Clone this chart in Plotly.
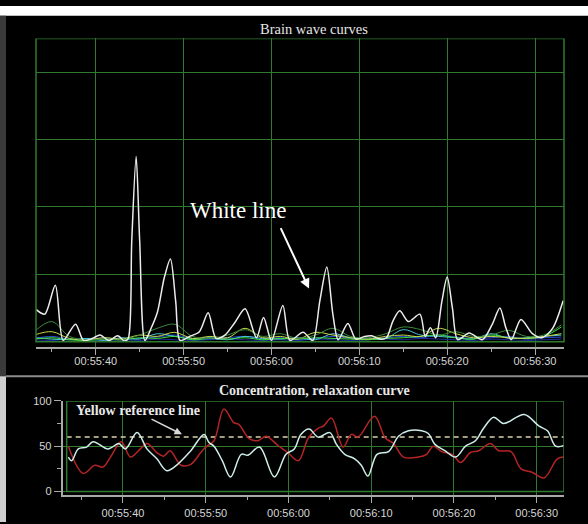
import plotly.graph_objects as go

W, H = 588, 524

# ---- data: seconds past 00:55:00 and amplitudes ----
# white brain-wave curve
white_t = [33.2, 34.2, 35.4, 36.3, 37.7, 38.6, 39.6, 40.5, 41.5, 42.5,
           43.3, 43.7, 44.1, 44.6, 45.0, 45.6, 46.3, 47.0, 47.8, 48.5,
           49.1, 49.6, 50.7, 51.8, 52.8, 53.7, 54.7, 55.8, 57.0, 58.3,
           59.1, 60.0, 61.3, 62.1, 63.6, 64.7, 65.5, 66.3, 67.0, 67.6,
           68.7, 69.6, 70.6, 71.4, 72.3, 73.1, 73.8, 74.6, 75.6, 76.9,
           77.5, 78.1, 78.7, 79.4, 80.0, 80.6, 81.2, 82.5, 84.0, 85.1,
           86.0, 86.7, 87.3, 88.4, 89.7, 90.8, 92.0, 93.2]
white_v = [48, 41, 84, 2, 26, 2, 5, 10, 2, 9,
           1, 5, 150, 275, 150, 2, 20, 43, 95, 123,
           60, 2, 8, 15, 43, 5, 10, 28, 49, 6,
           36, 2, 54, 2, 14, 2, 60, 111, 40, 3,
           27, 4, 8, 9, 4, 6, 30, 46, 30, 41,
           8, 21, 6, 60, 96, 50, 3, 13, 3, 25,
           50, 20, 3, 33, 12, 6, 20, 61]

# low-amplitude band curves, sampled every 2 s
band_t = [33, 35, 37, 39, 41, 43, 45, 47, 49, 51, 53, 55, 57, 59, 61, 63,
          65, 67, 69, 71, 73, 75, 77, 79, 81, 83, 85, 87, 89, 91, 93]
navy_v = [3, 2, 4, 3, 2, 3, 2, 4, 3, 2, 3, 4, 3, 2, 3, 2,
          4, 3, 2, 3, 4, 3, 5, 4, 3, 2, 4, 3, 2, 3, 4]
blue_v = [5, 8, 4, 3, 6, 3, 5, 7, 10, 5, 4, 6, 8, 4, 6, 3,
          5, 8, 5, 4, 6, 8, 6, 10, 7, 5, 6, 8, 4, 6, 7]
cyan_band_v = [6, 4, 3, 5, 2, 6, 4, 12, 8, 4, 6, 3, 8, 5, 4, 6,
               3, 12, 6, 4, 5, 18, 10, 8, 6, 4, 12, 5, 6, 8, 10]
lime_v = [4, 6, 3, 2, 4, 3, 6, 5, 8, 3, 5, 4, 6, 3, 5, 4,
          6, 5, 4, 3, 5, 6, 8, 10, 6, 4, 10, 6, 5, 8, 22]
yellowgreen_v = [10, 15, 5, 3, 6, 4, 10, 8, 14, 5, 8, 6, 20, 6, 8, 4,
                 14, 10, 6, 4, 8, 10, 8, 20, 12, 6, 8, 6, 5, 8, 12]
darkgreen_v = [15, 30, 8, 3, 4, 3, 10, 20, 26, 8, 5, 10, 18, 8, 12, 5,
               10, 20, 8, 6, 12, 22, 18, 10, 15, 8, 10, 17, 8, 10, 25]

# concentration (red) and relaxation (cyan) curves
red_t = [33.4, 35.2, 36.6, 37.6, 38.5, 39.8, 40.9, 42.1, 42.9, 44.1,
         44.9, 45.7, 47.0, 48.2, 49.4, 50.0, 51.0, 52.2, 53.4, 54.0,
         55.3, 56.3, 57.3, 58.7, 59.9, 61.2, 62.4, 63.6, 64.2, 65.2,
         66.6, 67.6, 68.4, 70.4, 71.7, 72.7, 73.9, 75.7, 76.7, 77.5,
         78.5, 79.8, 80.8, 82.0, 83.0, 84.4, 85.4, 86.9, 88.1, 89.5,
         90.9, 92.5, 93.4]
red_v = [50, 20, 29, 27, 38, 55, 38, 47, 53, 43,
         39, 45, 29, 30, 43, 49, 56, 91, 76, 74,
         58, 56, 61, 51, 43, 34, 59, 70, 72, 81,
         49, 63, 60, 83, 59, 53, 38, 38, 41, 50,
         44, 41, 32, 43, 45, 53, 45, 44, 25, 21,
         15, 36, 38]
cyan_t = [33.4, 33.8, 34.6, 35.6, 36.4, 38.1, 38.7, 39.5, 40.3, 41.7,
          42.9, 44.1, 45.3, 46.6, 48.2, 49.8, 50.4, 51.0, 52.0, 53.0,
          54.3, 55.1, 56.5, 58.3, 59.7, 60.7, 61.5, 62.5, 63.6, 65.0,
          65.8, 66.8, 68.0, 68.8, 69.6, 70.7, 72.1, 73.3, 74.5, 76.1,
          76.9, 77.7, 78.9, 80.2, 81.4, 82.6, 83.6, 84.8, 86.0, 88.5,
          90.3, 91.3, 92.3, 93.4]
cyan_v = [38, 34, 47, 49, 55, 47, 49, 53, 47, 65,
          47, 36, 23, 30, 45, 63, 54, 50, 34, 16,
          41, 40, 49, 16, 41, 47, 63, 69, 60, 65,
          52, 41, 36, 29, 17, 41, 44, 61, 67, 67,
          64, 52, 45, 38, 50, 56, 70, 82, 75, 85,
          72, 67, 50, 51]

REFERENCE_LEVEL = 60
TIME_RANGE = [33.2, 93.3]
WAVE_MAX = 450
LEVEL_MAX = 100


def stamp(secs):
    """Seconds past 00:55:00 -> datetime string."""
    out = []
    for s in secs:
        m = 55 + int(s // 60)
        out.append(f"2024-01-01 00:{m:02d}:{s - 60 * int(s // 60):06.3f}")
    return out


def px_x(px):
    return px / W


def px_y(py):
    return 1 - py / H


GRID = "#2f7a2f"
AXIS = "#a9a9a9"
TICKFONT = dict(family="Liberation Sans, Arial, sans-serif", size=11, color="#d6d6d6")
SERIF = "Liberation Serif, Times New Roman, serif"

# the axis lines sit a few pixels outside the green plot frame
TOP_GAP_PX, BOT_GAP_PX, LEFT_GAP_PX = 5, 4, 4
top_span_px = 346 - 33 - TOP_GAP_PX
bot_span_px = 497 - 401 - BOT_GAP_PX
bot_w_px = 564 - 62.7 - LEFT_GAP_PX
span_s = TIME_RANGE[1] - TIME_RANGE[0]

fig = go.Figure()

# brain-wave bands (drawn under the white curve)
bands = [
    (navy_v, "#1c2c96"),
    (blue_v, "#2a4ad6"),
    (cyan_band_v, "#48c4dc"),
    (lime_v, "#3ee03e"),
    (yellowgreen_v, "#c6d84a"),
    (darkgreen_v, "#3c8a3c"),
]
for vals, col in bands:
    fig.add_trace(go.Scatter(x=stamp(band_t), y=vals, mode="lines",
                             line=dict(color=col, width=1, shape="spline"),
                             xaxis="x", yaxis="y", hoverinfo="skip"))

fig.add_trace(go.Scatter(x=stamp(white_t), y=white_v, mode="lines",
                         line=dict(color="#ececec", width=1.5, shape="spline", smoothing=0.8),
                         xaxis="x", yaxis="y", hoverinfo="skip"))

# concentration / relaxation panel
fig.add_trace(go.Scatter(x=stamp(TIME_RANGE), y=[REFERENCE_LEVEL, REFERENCE_LEVEL],
                         mode="lines", line=dict(color="#d9d2aa", width=1.5, dash="5px,4px"),
                         xaxis="x2", yaxis="y2", hoverinfo="skip"))
fig.add_trace(go.Scatter(x=stamp(red_t), y=red_v, mode="lines",
                         line=dict(color="#b42424", width=1.5, shape="spline"),
                         xaxis="x2", yaxis="y2", hoverinfo="skip"))
fig.add_trace(go.Scatter(x=stamp(cyan_t), y=cyan_v, mode="lines",
                         line=dict(color="#cdeeea", width=1.5, shape="spline"),
                         xaxis="x2", yaxis="y2", hoverinfo="skip"))

time_axis = dict(
    type="date", tick0="2024-01-01 00:55:00", dtick=10000,
    tickformat="%H:%M:%S", ticks="outside", ticklen=6, tickwidth=1, tickcolor=AXIS,
    minor=dict(dtick=5000, ticks="outside", ticklen=3, tickcolor=AXIS, showgrid=False),
    showline=True, linecolor=AXIS, linewidth=2, showgrid=True, gridcolor=GRID,
    gridwidth=1, zeroline=False, tickfont=TICKFONT, fixedrange=True,
)

fig.update_layout(
    width=W, height=H, margin=dict(l=0, r=0, t=0, b=0),
    paper_bgcolor="#000000", plot_bgcolor="#000000", showlegend=False,
    xaxis=dict(time_axis, domain=[px_x(36), px_x(564)], anchor="y",
               range=stamp(TIME_RANGE), ticklabelstandoff=-3),
    yaxis=dict(domain=[px_y(346), px_y(33)],
               range=[-WAVE_MAX * TOP_GAP_PX / top_span_px, WAVE_MAX], tick0=0, dtick=100,
               showticklabels=False, ticks="", showline=False, zeroline=False,
               showgrid=True, gridcolor=GRID, anchor="x", fixedrange=True),
    xaxis2=dict(time_axis, domain=[px_x(62.7), px_x(564)], anchor="y2",
                range=stamp([TIME_RANGE[0] - span_s * LEFT_GAP_PX / bot_w_px, TIME_RANGE[1]]),
                ticklabelstandoff=0),
    yaxis2=dict(domain=[px_y(497), px_y(401)],
                range=[-LEVEL_MAX * BOT_GAP_PX / bot_span_px, LEVEL_MAX],
                tickvals=[0, 50, 100], ticks="outside", ticklen=7, tickcolor=AXIS,
                minor=dict(tickvals=[25, 75], ticks="outside", ticklen=4, tickcolor=AXIS,
                           showgrid=False),
                showline=True, linecolor=AXIS, linewidth=2, zeroline=False,
                showgrid=True, gridcolor=GRID, tickfont=TICKFONT,
                anchor="x2", fixedrange=True),
)

shapes = [
    # frame strips
    dict(type="rect", xref="paper", yref="paper", x0=0, x1=1, y0=px_y(10), y1=1,
         fillcolor="#ffffff", line=dict(width=0), layer="below"),
    dict(type="rect", xref="paper", yref="paper", x0=0, x1=px_x(6), y0=px_y(376), y1=px_y(10),
         fillcolor="#3a3a3a", line=dict(width=0), layer="below"),
    dict(type="rect", xref="paper", yref="paper", x0=0, x1=px_x(6), y0=0, y1=px_y(376),
         fillcolor="#cfcfcf", line=dict(width=0), layer="below"),
    # panel separator
    dict(type="line", xref="paper", yref="paper", x0=px_x(6), x1=1, y0=px_y(376), y1=px_y(376),
         line=dict(color="#8c8c8c", width=2)),
    # green plot frames
    dict(type="rect", xref="x domain", yref="y", x0=0, x1=1, y0=0, y1=WAVE_MAX,
         line=dict(color=GRID, width=1.5)),
    dict(type="rect", xref="x2", yref="y2", x0=stamp(TIME_RANGE)[0], x1=stamp(TIME_RANGE)[1],
         y0=0, y1=LEVEL_MAX, line=dict(color=GRID, width=1.5)),
]

center = dict(xref="paper", yref="paper", xanchor="center", yanchor="middle")
annotations = [
    dict(center, text="Brain wave curves", x=px_x(314), y=px_y(23), showarrow=False,
         font=dict(family=SERIF, size=14.5, color="#e6e6e6")),
    dict(center, text="<b>Concentration, relaxation curve</b>", x=px_x(314), y=px_y(390),
         showarrow=False, font=dict(family=SERIF, size=14, color="#e6e6e6")),
    dict(center, text="White line", x=px_x(238), y=px_y(208), showarrow=False,
         font=dict(family=SERIF, size=23, color="#ffffff")),
    dict(center, text="<b>Yellow reference line</b>", x=px_x(138), y=px_y(411),
         showarrow=False, font=dict(family=SERIF, size=14, color="#e8e8e8")),
    dict(text="", x=px_x(309), y=px_y(287), xref="paper", yref="paper", showarrow=True,
         ax=-29, ay=-62, arrowhead=2, arrowsize=1, arrowwidth=2, arrowcolor="#ffffff"),
    dict(text="", x=px_x(182), y=px_y(435), xref="paper", yref="paper", showarrow=True,
         ax=-32, ay=-16, arrowhead=2, arrowsize=1, arrowwidth=1.5, arrowcolor="#d8d8d8"),
]

fig.update_layout(shapes=shapes, annotations=annotations)

fig.write_html("out.html", config={"displayModeBar": False, "staticPlot": True})
